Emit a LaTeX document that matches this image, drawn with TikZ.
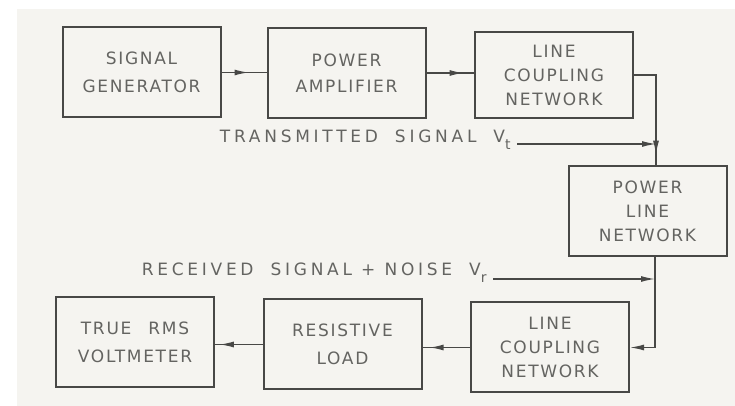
\documentclass[tikz,border=0pt]{standalone}
\usepackage{fontspec}
\setmainfont[LetterSpace=10]{DejaVu Sans}
\newfontfamily\jarang[LetterSpace=22]{DejaVu Sans}
\usetikzlibrary{arrows.meta,decorations.markings}

\definecolor{kertas}{RGB}{245,244,240}
\definecolor{tinta}{RGB}{72,72,70}
\definecolor{huruf}{RGB}{100,100,97}

\begin{document}
\begin{tikzpicture}[x=0.5pt,y=-0.5pt,
    kotak/.style={draw=tinta,line width=1pt,minimum width=79pt,minimum height=45pt,
      align=center,text=huruf,font=\fontsize{8.5}{12}\selectfont},
    garis/.style={draw=tinta,line width=0.7pt},
    ujung/.style={-{Latex[length=7pt,width=3pt]}},
    panah/.style={postaction={decorate},decoration={markings,
      mark=at position #1 with {\arrow{Latex[length=7pt,width=3pt]}}}},
    ket/.style={text=huruf,font=\jarang\fontsize{8.5}{12}\selectfont,inner sep=3pt}]

  % Latar kertas
  \fill[white] (0,0) rectangle (735,406);
  \fill[kertas] (17,9) rectangle (735,406);
  \useasboundingbox (0,0) rectangle (735,406);

  % Blok
  \node[kotak] (gen)  at (141.5,72.5) {SIGNAL\\[2pt]GENERATOR};
  \node[kotak] (amp)  at (346.5,73)   {POWER\\[1pt]AMPLIFIER};
  \node[kotak,minimum height=43pt] (lcn1) at (554,75) {LINE\\COUPLING\\NETWORK};
  \node[kotak] (pln)  at (647.5,211.5) {POWER\\LINE\\NETWORK};
  \node[kotak] (lcn2) at (550,347.5)  {LINE\\COUPLING\\NETWORK};
  \node[kotak] (load) at (342.5,344.5) {RESISTIVE\\[2pt]LOAD};
  \node[kotak] (rms)  at (135,342)    {TRUE\quad RMS\\[2pt]VOLTMETER};

  % Keterangan sinyal
  \node[ket,anchor=east] (tx) at (517,140)
    {TRANSMITTED\quad SIGNAL\quad V\raisebox{-3.5pt}{\scriptsize t}};
  \node[ket,anchor=east] (rx) at (493,273)
    {RECEIVED\quad SIGNAL + NOISE\quad V\raisebox{-3.5pt}{\scriptsize r}};
  \coordinate (jt) at (656,144);
  \coordinate (jr) at (655,279);

  % Garis penghubung
  \draw[garis,panah=0.6]  (gen.east) -- (gen.east -| amp.west);
  \draw[garis,panah=0.78] (amp.east) -- (amp.east -| lcn1.west);
  \draw[garis] (lcn1.east) -| (jt);
  \draw[garis,ujung] (tx.east |- jt) -- (jt);
  \draw[garis,panah=0.5] (jt) -- (jt |- pln.north);
  \draw[garis] (jr |- pln.south) -- (jr);
  \draw[garis,ujung] (rx.east |- jr) -- (jr);
  \draw[garis,ujung] (jr) |- (lcn2.east);
  \draw[garis,panah=0.85] (lcn2.west) -- (lcn2.west -| load.east);
  \draw[garis,panah=0.9]  (load.west) -- (load.west -| rms.east);
\end{tikzpicture}
\end{document}
